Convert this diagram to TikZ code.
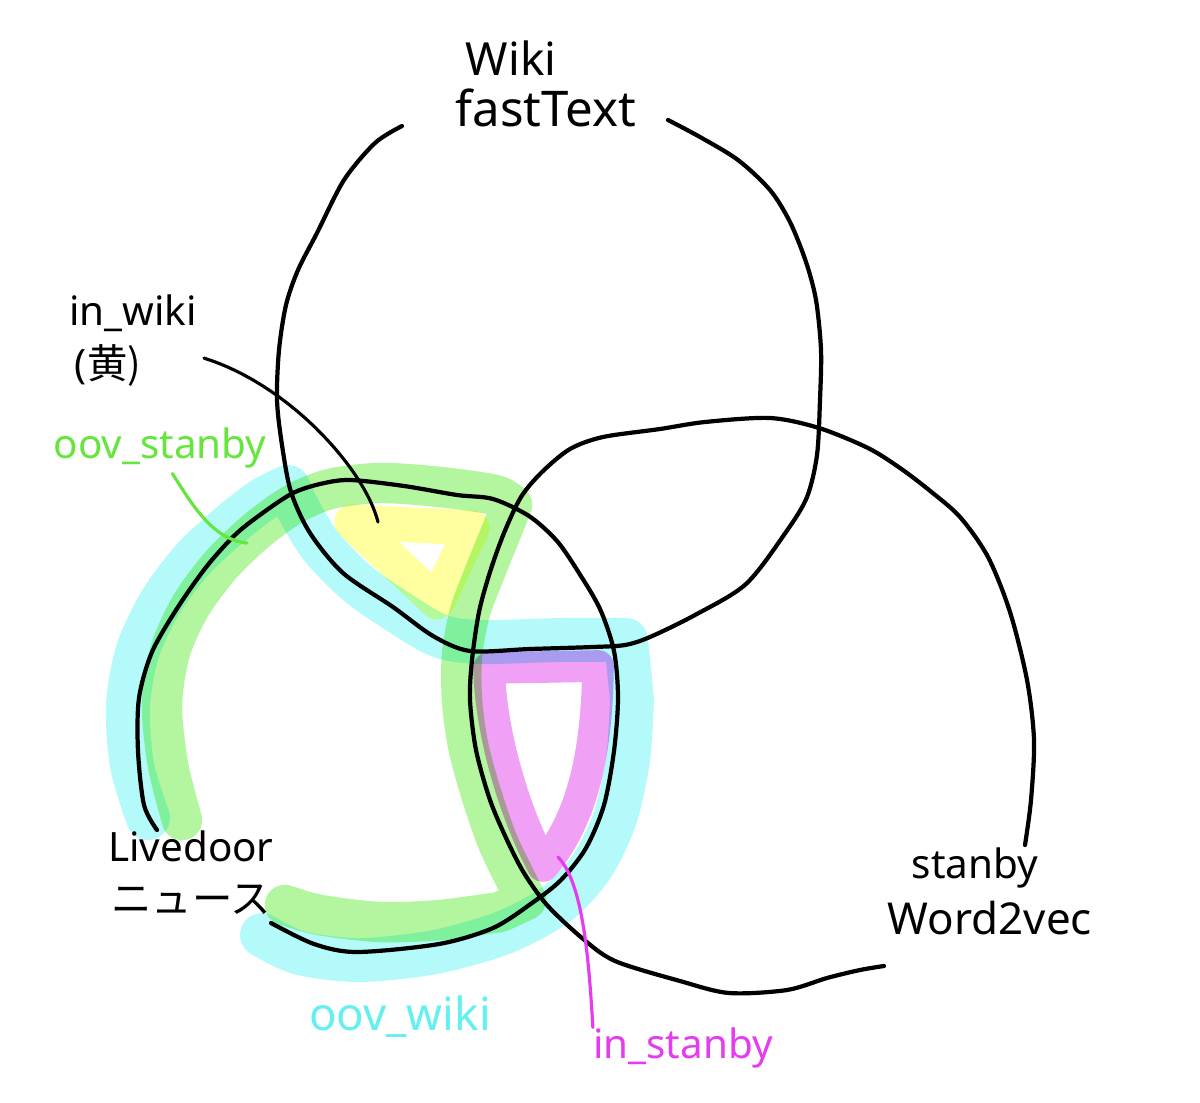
\documentclass[tikz,border=0pt]{standalone}
\usepackage{fontspec}
\setmainfont{Noto Sans}
\newfontfamily\jpfont{Noto Sans CJK JP}
\usetikzlibrary{positioning}
\definecolor{wikiblue}{RGB}{180,250,250}
\definecolor{stanbygreen}{RGB}{180,245,160}
\definecolor{inwikiyellow}{RGB}{255,255,160}
\definecolor{instanbypink}{RGB}{240,160,245}
\definecolor{textgreen}{RGB}{100,230,60}
\definecolor{textblue}{RGB}{100,240,240}
\definecolor{textpink}{RGB}{230,60,240}
\tikzset{
    setline/.style={line width=2.4pt, line cap=round, line join=round},
    band/.style={line width=#1, line cap=round, line join=round, blend mode=multiply},
    hand/.style={inner sep=0pt, font=\fontsize{23}{27}\selectfont},
    leader/.style={line width=1.8pt, line cap=round}
}

\begin{document}
\begin{tikzpicture}[x=0.02cm, y=-0.02cm, node distance=0.25cm]
    \useasboundingbox (0,0) rectangle (1200,1102);
    \fill[white] (0,0) rectangle (1200,1102);

    % marker strokes
    \draw[band=25pt, wikiblue] plot[smooth] coordinates {(148,818) (132,765) (128,705) (138,650) (162,600) (195,557) (230,525) (262,500) (288,487)}
        -- plot[smooth] coordinates {(296,505) (320,545) (357,583) (400,613) (440,636) (480,642) (560,640) (626,640)}
        -- plot[smooth] coordinates {(632,700) (628,760) (615,818) (592,866) (558,903) (505,932) (435,952) (360,960) (300,953) (262,935)};
    \draw[band=23pt, stanbygreen] plot[smooth] coordinates {(182,820) (168,765) (162,705) (170,652) (190,607) (220,566) (255,532) (292,505) (330,489) (380,483) (440,487) (495,495) (512,505)}
        -- plot[smooth] coordinates {(500,535) (485,572) (470,612) (462,655) (462,700) (468,745) (480,790) (497,840) (516,880) (526,900)}
        -- plot[smooth] coordinates {(500,912) (440,920) (380,922) (320,915) (285,905)};
    \draw[band=20pt, inwikiyellow] (352,522) -- (472,528) -- (437,602) -- cycle;
    \draw[band=18pt, instanbypink] (489,668) -- (598,666) .. controls (597,760) and (580,822) .. (543,866) .. controls (518,820) and (491,740) .. cycle;

    % the three sets
    \draw[setline] plot[smooth] coordinates {(402,126) (375,143) (344,180) (317,233) (298,270) (286,305) (279,350) (277,400) (282,445) (291,492) (310,533) (343,573) (393,607) (433,636) (470,651) (530,649) (593,647) (625,645) (650,637) (695,615) (746,584) (786,532) (807,497) (817,455) (820,400) (821,350) (816,300) (806,262) (790,222) (770,190) (738,160) (700,137) (668,120)};
    \draw[setline] plot[smooth] coordinates {(1025,845) (1031,800) (1034,740) (1027,680) (1010,612) (988,557) (960,517) (929,490) (900,468) (868,448) (819,428) (770,418) (705,422) (660,429) (603,437) (570,449) (542,472) (521,497) (504,533) (490,572) (479,612) (472,660) (470,700) (476,750) (490,800) (507,840) (524,873) (547,905) (582,938) (615,961) (680,981) (729,993) (787,990) (827,978) (860,970) (884,966)};
    \draw[setline] plot[smooth] coordinates {(157,830) (144,805) (138,751) (139,698) (152,652) (178,607) (207,566) (236,534) (264,512) (293,493) (320,484) (350,480) (404,486) (457,495) (493,499) (529,516) (557,541) (579,573) (600,609) (614,651) (618,698) (614,751) (604,805) (586,848) (561,880) (532,903) (493,928) (439,944) (357,952) (314,944) (271,923)};

    % labels
    \node (fasttext) [hand, font=\fontsize{28}{32}\selectfont] at (546,108) {fastText};
    \node (wiki) [hand, font=\fontsize{26}{30}\selectfont, above=of fasttext, xshift=-0.7cm] {Wiki};
    \node (inwiki) [hand] at (133,313) {in\_wiki};
    \node (kiiro) [hand, below=of inwiki, xshift=-0.5cm] {(\jpfont 黄)};
    \node (oovstanby) [hand, textgreen] at (160,448) {oov\_stanby};
    \node (livedoor) [hand] at (191,846) {Livedoor};
    \node (news) [hand, below=0.45cm of livedoor] {\jpfont ニュース};
    \node (oovwiki) [hand, textblue, font=\fontsize{26}{30}\selectfont] at (400,1017) {oov\_wiki};
    \node (instanby) [hand, textpink] at (683,1048) {in\_stanby};
    \node (stanby) [hand] at (975,868) {stanby};
    \node (wordvec) [hand, font=\fontsize{25}{29}\selectfont, below=of stanby, xshift=0.3cm] {Word2vec};

    % pointers
    \coordinate (yellowspot) at (378,522);
    \coordinate (greenspot) at (247,543);
    \coordinate (pinkspot) at (558,857);
    \draw[leader] ([xshift=1.25cm, yshift=0.15cm]kiiro.east) .. controls (290,385) and (365,470) .. (yellowspot);
    \draw[leader, textgreen] ([xshift=0.25cm, yshift=-0.1cm]oovstanby.south) .. controls (195,510) and (215,540) .. (greenspot);
    \draw[leader, textpink] (pinkspot) .. controls (580,880) and (588,940) .. (instanby.north west);
\end{tikzpicture}
\end{document}
